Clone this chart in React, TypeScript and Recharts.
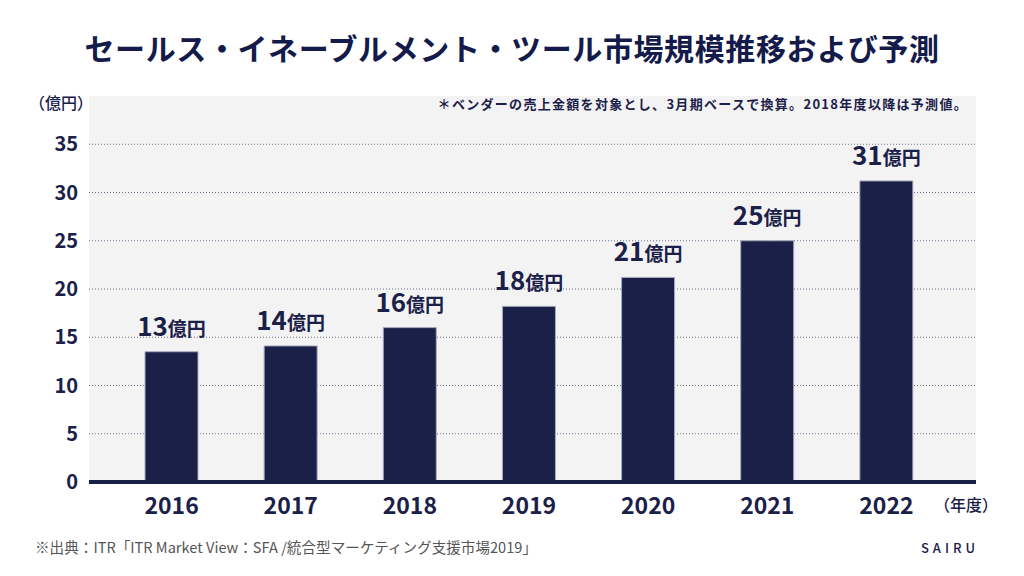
import React from 'react';
import { BarChart, Bar, XAxis, YAxis, CartesianGrid, LabelList } from 'recharts';

const NAVY = '#1b2049';
const FONT = '"Noto Sans CJK JP", "Noto Sans", sans-serif';

// 年度 / 市場規模（億円）
const years = ['2016', '2017', '2018', '2019', '2020', '2021', '2022'];
const marketSize = [13.5, 14.1, 16.0, 18.2, 21.2, 25.0, 31.2];
const valueLabels = ['13', '14', '16', '18', '21', '25', '31'];
const yTicks = [0, 5, 10, 15, 20, 25, 30, 35];
const yMax = 40;

const data = years.map((year, i) => ({ year, value: marketSize[i], label: valueLabels[i] }));

const YTick = (props: any) => {
  const { x, y, payload } = props;
  return (
    <text x={x} y={y} dy={7} textAnchor="end" fill={NAVY} fontSize={20} fontWeight={600} fontFamily={FONT}>
      {payload.value}
    </text>
  );
};

const XTick = (props: any) => {
  const { x, y, payload } = props;
  return (
    <text x={x} y={y} dy={30} textAnchor="middle" fill={NAVY} fontSize={23} fontWeight="bold" fontFamily={FONT}>
      {payload.value}
    </text>
  );
};

const ValueLabel = (props: any) => {
  const { x, y, width, value } = props;
  const cx = Number(x) + Number(width) / 2;
  return (
    <text x={cx} y={Number(y) - 16} textAnchor="middle" fill={NAVY} fontWeight={600} fontFamily={FONT}>
      <tspan fontSize={26}>{value}</tspan>
      <tspan fontSize={19}>億円</tspan>
    </text>
  );
};

// only draw grid lines at the labelled ticks (no line at the top edge)
const gridLines = ({ offset }: any) =>
  yTicks.map((t) => offset.top + offset.height * (1 - t / yMax));

export default function App() {
  return (
    <div style={{ position: 'absolute', left: 0, top: 0, width: 1024, height: 576, background: '#fff', fontFamily: FONT }}>
      <BarChart
        width={1024}
        height={576}
        data={data}
        margin={{ top: 96, right: 48, bottom: 0, left: 0 }}
      >
        <CartesianGrid
          vertical={false}
          fill="#f3f3f3"
          fillOpacity={1}
          stroke="#6b6f8c"
          strokeDasharray="1 2"
          horizontalCoordinatesGenerator={gridLines}
        />
        <YAxis
          width={89}
          domain={[0, yMax]}
          ticks={yTicks}
          axisLine={false}
          tickLine={false}
          tickSize={0}
          tickMargin={11}
          tick={<YTick />}
          interval={0}
        />
        <XAxis
          dataKey="year"
          height={94}
          padding={{ left: 23, right: 30 }}
          axisLine={{ stroke: NAVY, strokeWidth: 4 }}
          tickLine={false}
          tickSize={0}
          tick={<XTick />}
          interval={0}
        />
        <Bar dataKey="value" fill={NAVY} stroke="#a9abbd" strokeWidth={1} barSize={53} isAnimationActive={false}>
          <LabelList dataKey="label" content={<ValueLabel />} />
        </Bar>
      </BarChart>
      <svg width={1024} height={576} style={{ position: 'absolute', left: 0, top: 0, pointerEvents: 'none' }}>
        <text x={512} y={60} textAnchor="middle" fill="#141a4a" fontSize={30} fontWeight="bold" letterSpacing={0.6} fontFamily={FONT}>
          セールス・イネーブルメント・ツール市場規模推移および予測
        </text>
        <text x={93} y={109} textAnchor="end" fill={NAVY} fontSize={16} fontWeight={500} fontFamily={FONT}>
          （億円）
        </text>
        <text x={968} y={109} textAnchor="end" fill={NAVY} fontSize={13} fontWeight="bold" letterSpacing={1.3} fontFamily={FONT}>
          ＊ベンダーの売上金額を対象とし、3月期ベースで換算。2018年度以降は予測値。
        </text>
        <text x={934} y={511} textAnchor="start" fill={NAVY} fontSize={16} fontWeight={500} fontFamily={FONT}>
          （年度）
        </text>
        <text x={35} y={553} textAnchor="start" fill="#555" fontSize={14.6} fontFamily={FONT}>
          ※出典：ITR「ITR Market View：SFA /統合型マーケティング支援市場2019」
        </text>
        <text x={979} y={553} textAnchor="end" fill={NAVY} fontSize={13} fontWeight={500} letterSpacing={4} fontFamily={FONT}>
          SAIRU
        </text>
      </svg>
    </div>
  );
}
